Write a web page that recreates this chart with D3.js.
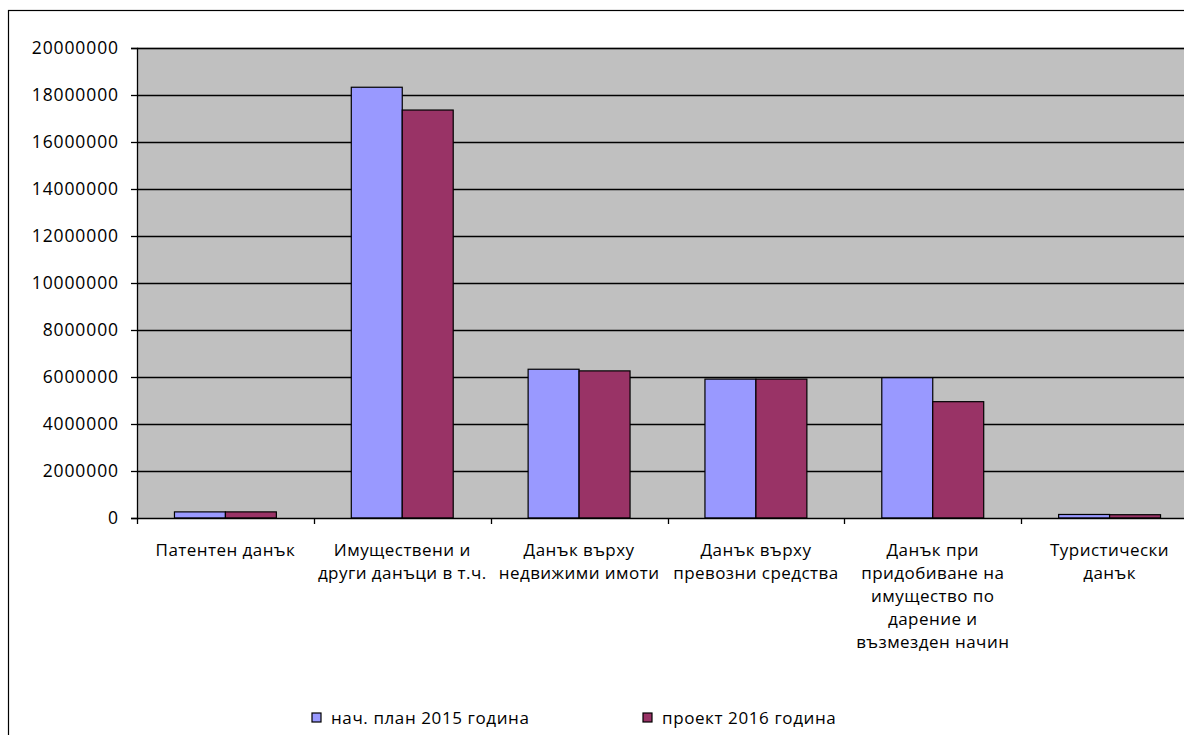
<!DOCTYPE html>
<html>
<head>
<meta charset="utf-8">
<script src="https://cdn.jsdelivr.net/npm/d3@7/dist/d3.min.js"></script>
<style>
  html, body { margin: 0; padding: 0; background: #fff; }
  svg { display: block; }
  text { font-family: "Open Sans", sans-serif; fill: #000; }
</style>
</head>
<body>
<div id="chart"></div>
<script>
(() => {
"use strict";

const WIDTH = 1184, HEIGHT = 735;

// category labels, already broken into lines the way the chart shows them
const categories = [
  ["Патентен данък"],
  ["Имуществени и", "други данъци в т.ч."],
  ["Данък върху", "недвижими имоти"],
  ["Данък върху", "превозни средства"],
  ["Данък при", "придобиване на", "имущество по", "дарение и", "възмезден начин"],
  ["Туристически", "данък"]
];
const seriesNames = ["нач. план 2015 година", "проект 2016 година"];
const plan2015 = [260000, 18330000, 6330000, 5910000, 5970000, 150000];
const project2016 = [260000, 17360000, 6260000, 5910000, 4950000, 140000];
const yTicks = [0, 2000000, 4000000, 6000000, 8000000, 10000000,
                12000000, 14000000, 16000000, 18000000, 20000000];
const colors = ["#9999FF", "#993366"];

const plot = { left: 137, top: 48, right: 1198, bottom: 518 };

let svg = d3.select("#chart").append("svg")
  .attr("width", WIDTH)
  .attr("height", HEIGHT);

// outer chart frame (runs off the picture on the right and bottom)
svg.append("rect")
  .attr("x", 8.5).attr("y", 10.5)
  .attr("width", 1200).attr("height", 760)
  .attr("fill", "#fff")
  .attr("stroke", "#000")
  .attr("stroke-width", 1.2);

let xScale = d3.scaleBand()
  .domain(d3.range(categories.length))
  .range([plot.left, plot.right]);
let inner = d3.scaleBand()
  .domain([0, 1])
  .range([0, xScale.bandwidth()])
  .paddingOuter(0.735);
let yScale = d3.scaleLinear()
  .domain([0, 20000000])
  .range([plot.bottom, plot.top]);

// plot area
svg.append("rect")
  .attr("x", plot.left).attr("y", plot.top)
  .attr("width", plot.right - plot.left)
  .attr("height", plot.bottom - plot.top)
  .attr("fill", "#C0C0C0");

svg.append("line")
  .attr("x1", plot.left).attr("x2", plot.right)
  .attr("y1", plot.top + 0.5).attr("y2", plot.top + 0.5)
  .attr("stroke", "#808080").attr("stroke-width", 1.5);

// gridlines
svg.append("g")
  .selectAll("line")
  .data(yTicks.slice(1))
  .join("line")
  .attr("x1", plot.left).attr("x2", plot.right)
  .attr("y1", d => Math.round(yScale(d)) + 0.5)
  .attr("y2", d => Math.round(yScale(d)) + 0.5)
  .attr("stroke", "#000")
  .attr("stroke-width", 1.3);

// bars
let series = [plan2015, project2016];
series.forEach((vals, s) => {
  svg.append("g")
    .selectAll("rect")
    .data(vals)
    .join("rect")
    .attr("x", (d, i) => xScale(i) + inner(s))
    .attr("y", d => yScale(d))
    .attr("width", inner.bandwidth())
    .attr("height", d => plot.bottom - yScale(d))
    .attr("fill", colors[s])
    .attr("stroke", "#000")
    .attr("stroke-width", 1.2);
});

// y axis
let yAxis = svg.append("g")
  .attr("transform", `translate(${plot.left},0)`)
  .call(d3.axisLeft(yScale).tickValues(yTicks).tickFormat(d3.format("d")).tickSizeOuter(0).tickSize(6).tickPadding(12));
yAxis.select(".domain").attr("stroke", "#000").attr("stroke-width", 1.3);
yAxis.selectAll(".tick line").attr("stroke", "#000").attr("stroke-width", 1.3);
yAxis.selectAll(".tick text")
  .attr("font-family", "Open Sans, sans-serif")
  .attr("font-size", 17.5)
  .attr("letter-spacing", 0.9)
  .attr("fill", "#000");

// x axis line and ticks between categories
svg.append("line")
  .attr("x1", plot.left).attr("x2", plot.right)
  .attr("y1", plot.bottom + 0.5).attr("y2", plot.bottom + 0.5)
  .attr("stroke", "#000").attr("stroke-width", 1.3);
svg.append("g")
  .selectAll("line")
  .data(d3.range(categories.length + 1))
  .join("line")
  .attr("x1", i => Math.round(i < categories.length ? xScale(i) : plot.right) + 0.5)
  .attr("x2", i => Math.round(i < categories.length ? xScale(i) : plot.right) + 0.5)
  .attr("y1", plot.bottom)
  .attr("y2", plot.bottom + 6)
  .attr("stroke", "#000").attr("stroke-width", 1.3);

// category labels
let labels = svg.append("g");
categories.forEach((lines, i) => {
  let t = labels.append("text")
    .attr("text-anchor", "middle")
    .attr("font-size", 17)
    .attr("letter-spacing", 0.45);
  lines.forEach((ln, k) => {
    t.append("tspan")
      .attr("x", xScale(i) + xScale.bandwidth() / 2)
      .attr("y", 556 + k * 23)
      .text(ln);
  });
});

// legend
let legendX = [312, 643];
seriesNames.forEach((name, s) => {
  let g = svg.append("g").attr("transform", `translate(${legendX[s]},713)`);
  g.append("rect")
    .attr("width", 9).attr("height", 9)
    .attr("fill", colors[s])
    .attr("stroke", "#000")
    .attr("stroke-width", 1.2);
  g.append("text")
    .attr("x", 19).attr("y", 10.5)
    .attr("font-size", 17)
    .attr("letter-spacing", 0.6)
    .text(name);
});
})();
</script>
</body>
</html>
